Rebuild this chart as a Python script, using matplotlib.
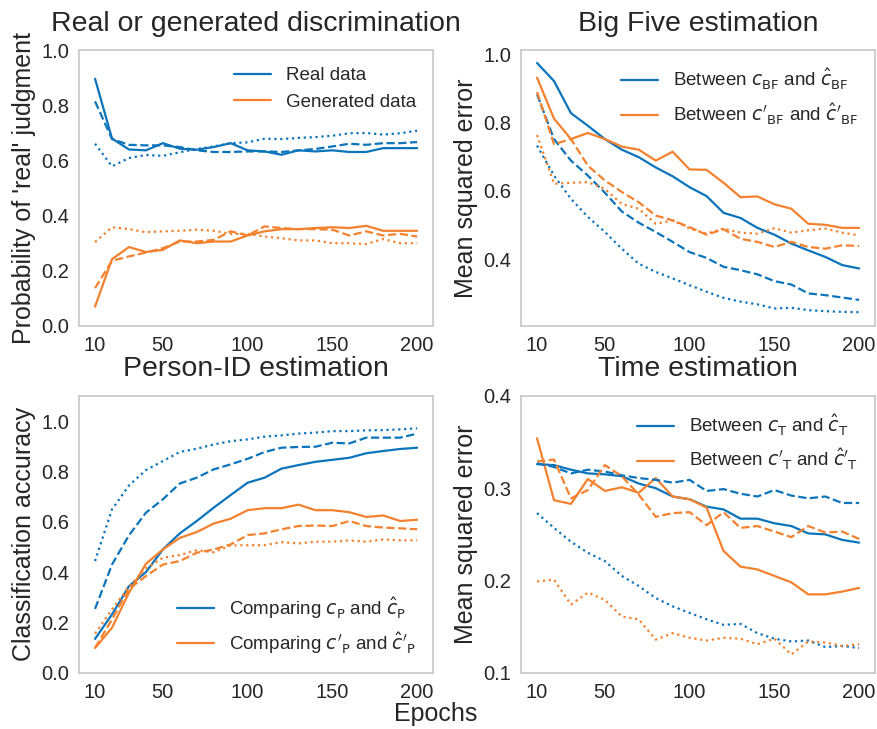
import matplotlib
matplotlib.use('Agg')
import matplotlib.pyplot as plt
import seaborn as sns

sns.set_style('white')
plt.rcParams['font.family'] = ['Liberation Sans', 'DejaVu Sans']
plt.rcParams['mathtext.fontset'] = 'dejavusans'

BLUE = '#0b74bb'
ORANGE = '#f4812e'

epochs = list(range(10, 201, 10))

# Real or generated discrimination
real_solid = [0.897, 0.68, 0.64, 0.637, 0.663, 0.643, 0.639, 0.649, 0.663, 0.637,
              0.633, 0.621, 0.637, 0.633, 0.637, 0.631, 0.631, 0.645, 0.645, 0.645]
real_dash = [0.815, 0.678, 0.657, 0.655, 0.655, 0.649, 0.637, 0.631, 0.631, 0.633,
             0.633, 0.631, 0.637, 0.642, 0.651, 0.661, 0.657, 0.663, 0.663, 0.667]
real_dot = [0.661, 0.579, 0.609, 0.62, 0.617, 0.63, 0.642, 0.651, 0.663, 0.666,
            0.679, 0.678, 0.682, 0.685, 0.69, 0.699, 0.7, 0.694, 0.699, 0.708]
gen_solid = [0.07, 0.242, 0.286, 0.268, 0.276, 0.31, 0.3, 0.306, 0.306, 0.328,
             0.343, 0.351, 0.351, 0.355, 0.358, 0.355, 0.363, 0.345, 0.345, 0.345]
gen_dash = [0.137, 0.236, 0.252, 0.266, 0.282, 0.306, 0.306, 0.312, 0.343, 0.328,
            0.361, 0.355, 0.351, 0.351, 0.349, 0.328, 0.343, 0.328, 0.334, 0.324]
gen_dot = [0.304, 0.358, 0.351, 0.34, 0.343, 0.345, 0.349, 0.345, 0.334, 0.334,
           0.324, 0.318, 0.31, 0.31, 0.3, 0.3, 0.297, 0.315, 0.3, 0.3]

# Big Five estimation
bf_solid = [0.975, 0.922, 0.828, 0.791, 0.752, 0.721, 0.699, 0.669, 0.643, 0.611,
            0.585, 0.536, 0.521, 0.492, 0.472, 0.446, 0.426, 0.407, 0.383, 0.373]
bf_dash = [0.883, 0.752, 0.689, 0.645, 0.595, 0.54, 0.507, 0.48, 0.451, 0.421,
           0.404, 0.378, 0.368, 0.356, 0.336, 0.326, 0.3, 0.295, 0.288, 0.281]
bf_dot = [0.733, 0.645, 0.577, 0.524, 0.48, 0.431, 0.387, 0.363, 0.344, 0.324,
          0.305, 0.287, 0.276, 0.268, 0.256, 0.258, 0.251, 0.248, 0.246, 0.245]
bfp_solid = [0.932, 0.812, 0.752, 0.77, 0.752, 0.73, 0.721, 0.689, 0.715, 0.663,
             0.662, 0.624, 0.582, 0.584, 0.561, 0.548, 0.504, 0.501, 0.492, 0.492]
bfp_dash = [0.89, 0.737, 0.752, 0.674, 0.631, 0.597, 0.567, 0.528, 0.514, 0.494,
            0.472, 0.488, 0.46, 0.451, 0.436, 0.451, 0.436, 0.431, 0.441, 0.439]
bfp_dot = [0.764, 0.621, 0.624, 0.626, 0.606, 0.562, 0.548, 0.504, 0.514, 0.49,
           0.475, 0.49, 0.478, 0.475, 0.491, 0.478, 0.485, 0.49, 0.478, 0.47]

# Person-ID estimation
p_solid = [0.135, 0.232, 0.344, 0.4, 0.49, 0.554, 0.603, 0.656, 0.706, 0.755,
           0.775, 0.811, 0.825, 0.838, 0.846, 0.854, 0.872, 0.881, 0.889, 0.894]
p_dash = [0.254, 0.43, 0.546, 0.636, 0.689, 0.752, 0.775, 0.808, 0.828, 0.85,
          0.877, 0.894, 0.897, 0.898, 0.914, 0.911, 0.934, 0.934, 0.934, 0.95]
p_dot = [0.444, 0.649, 0.744, 0.805, 0.841, 0.877, 0.89, 0.907, 0.92, 0.927,
         0.938, 0.943, 0.95, 0.954, 0.96, 0.96, 0.963, 0.964, 0.967, 0.971]
pp_solid = [0.099, 0.179, 0.318, 0.433, 0.49, 0.536, 0.559, 0.593, 0.612, 0.646,
            0.654, 0.654, 0.668, 0.646, 0.646, 0.638, 0.619, 0.625, 0.603, 0.608]
pp_dash = [0.099, 0.212, 0.334, 0.384, 0.43, 0.444, 0.477, 0.49, 0.51, 0.547,
           0.554, 0.57, 0.583, 0.585, 0.583, 0.603, 0.583, 0.577, 0.574, 0.57]
pp_dot = [0.156, 0.252, 0.342, 0.415, 0.457, 0.468, 0.487, 0.479, 0.506, 0.507,
          0.507, 0.519, 0.514, 0.521, 0.521, 0.526, 0.521, 0.53, 0.526, 0.526]

# Time estimation
t_solid = [0.326, 0.325, 0.32, 0.316, 0.315, 0.313, 0.305, 0.3, 0.291, 0.288,
           0.28, 0.277, 0.267, 0.267, 0.262, 0.259, 0.251, 0.25, 0.244, 0.241]
t_dash = [0.327, 0.323, 0.316, 0.32, 0.318, 0.314, 0.311, 0.309, 0.306, 0.309,
          0.297, 0.299, 0.294, 0.291, 0.298, 0.292, 0.289, 0.291, 0.284, 0.284]
t_dot = [0.273, 0.257, 0.242, 0.23, 0.221, 0.205, 0.194, 0.181, 0.172, 0.165,
         0.158, 0.152, 0.153, 0.143, 0.137, 0.134, 0.135, 0.128, 0.129, 0.127]
tp_solid = [0.354, 0.287, 0.283, 0.31, 0.297, 0.301, 0.295, 0.311, 0.291, 0.288,
            0.279, 0.232, 0.215, 0.212, 0.205, 0.198, 0.185, 0.185, 0.188, 0.192]
tp_dash = [0.329, 0.331, 0.289, 0.298, 0.325, 0.313, 0.293, 0.269, 0.273, 0.274,
           0.26, 0.274, 0.257, 0.259, 0.253, 0.247, 0.259, 0.252, 0.253, 0.245]
tp_dot = [0.199, 0.201, 0.174, 0.187, 0.179, 0.161, 0.158, 0.136, 0.143, 0.138,
          0.135, 0.138, 0.137, 0.131, 0.137, 0.12, 0.134, 0.133, 0.129, 0.131]

xticks = [10, 50, 100, 150, 200]

fig = plt.figure(figsize=(8.77, 7.29), dpi=100)
ax1 = fig.add_axes([0.090, 0.553, 0.404, 0.378])
ax2 = fig.add_axes([0.594, 0.553, 0.404, 0.378])
ax3 = fig.add_axes([0.090, 0.077, 0.404, 0.380])
ax4 = fig.add_axes([0.594, 0.077, 0.404, 0.380])

panels = [
    (ax1, real_solid, real_dash, real_dot, gen_solid, gen_dash, gen_dot,
     'Real or generated discrimination', "Probability of 'real' judgment",
     'Real data', 'Generated data', (0.0, 1.0), 'upper right'),
    (ax2, bf_solid, bf_dash, bf_dot, bfp_solid, bfp_dash, bfp_dot,
     'Big Five estimation', 'Mean squared error',
     r'Between $c_{\mathrm{BF}}$ and $\hat{c}_{\mathrm{BF}}$',
     r"Between $c'_{\mathrm{BF}}$ and $\hat{c}'_{\mathrm{BF}}$", (0.205, 1.012), 'upper right'),
    (ax3, p_solid, p_dash, p_dot, pp_solid, pp_dash, pp_dot,
     'Person-ID estimation', 'Classification accuracy',
     r'Comparing $c_{\mathrm{P}}$ and $\hat{c}_{\mathrm{P}}$',
     r"Comparing $c'_{\mathrm{P}}$ and $\hat{c}'_{\mathrm{P}}$", (0.0, 1.1), 'lower right'),
    (ax4, t_solid, t_dash, t_dot, tp_solid, tp_dash, tp_dot,
     'Time estimation', 'Mean squared error',
     r'Between $c_{\mathrm{T}}$ and $\hat{c}_{\mathrm{T}}$',
     r"Between $c'_{\mathrm{T}}$ and $\hat{c}'_{\mathrm{T}}$", (0.1, 0.4), 'upper right'),
]

lw = 1.6
for ax, s1, d1, o1, s2, d2, o2, title, ylab, lab1, lab2, ylim, loc in panels:
    ax.plot(epochs, s1, color=BLUE, lw=lw, label=lab1)
    ax.plot(epochs, s2, color=ORANGE, lw=lw, label=lab2)
    ax.plot(epochs, d1, color=BLUE, lw=lw, ls='--')
    ax.plot(epochs, o1, color=BLUE, lw=lw, ls=':')
    ax.plot(epochs, d2, color=ORANGE, lw=lw, ls='--')
    ax.plot(epochs, o2, color=ORANGE, lw=lw, ls=':')
    ax.set_title(title, size=20.5, pad=14)
    ax.set_ylabel(ylab, size=18)
    ax.set_xticks(xticks)
    ax.set_ylim(*ylim)
    ax.tick_params(axis='both', labelsize=14.5)
    for sp in ax.spines.values():
        sp.set_color('#cccccc')
        sp.set_linewidth(1.3)
    ax.legend(loc=loc, frameon=False, fontsize=13.5)

ax3.set_yticks([0.0, 0.2, 0.4, 0.6, 0.8, 1.0])
ax4.set_yticks([0.1, 0.2, 0.3, 0.4])
ax2.set_yticks([0.4, 0.6, 0.8, 1.0])

fig.text(0.497, 0.02, 'Epochs', ha='center', va='center', size=18, color='.15')

plt.savefig('out.png', dpi=100)
